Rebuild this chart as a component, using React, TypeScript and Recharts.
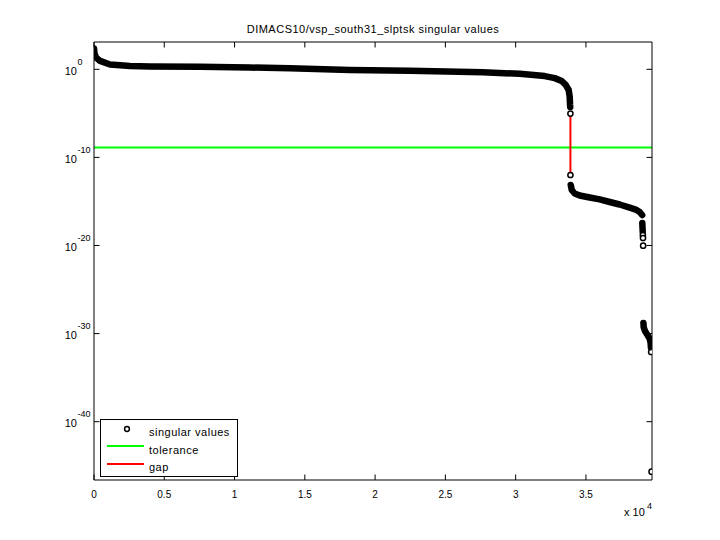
import React from 'react';
import { ComposedChart, XAxis, YAxis, Scatter, ReferenceLine, Legend } from 'recharts';

const FONT = '"Liberation Sans", Arial, Helvetica, sans-serif';

const chartTitle = 'DIMACS10/vsp_south31_slptsk singular values';
const xTicks = [0, 5000, 10000, 15000, 20000, 25000, 30000, 35000];
const yTicks = [1e0, 1e-10, 1e-20, 1e-30, 1e-40];
const xDomain = [0, 39700];
const yDomain = [2.4e-47, 1.26e3];

// dense run of singular values before the gap
const bandAIndex = [0, 40, 140, 430, 1140, 2560, 3980, 7540, 11100, 13940, 18200, 22470, 27660, 30290, 32067, 32778, 33276, 33560, 33774, 33845, 33867, 33881];
const bandAValue = [2.3e2, 6.0e1, 2.2e1, 9.0, 3.5, 2.4, 2.1, 2.0, 1.6, 1.3, 0.85, 0.68, 0.46, 0.31, 0.17, 0.10, 4.7e-2, 1.7e-2, 4.5e-3, 7.2e-4, 1.1e-4, 5.2e-5];

// dense run after the gap
const bandBIndex = [33917, 33988, 34201, 34556, 35268, 35979, 36690, 37401, 38112, 38539, 38823, 39001];
const bandBValue = [7.4e-14, 2.0e-14, 8.0e-15, 4.8e-15, 2.8e-15, 1.7e-15, 8.7e-16, 4.5e-16, 2.0e-16, 1.2e-16, 6.3e-17, 2.9e-17];

const bandCIndex = [39010, 39020, 39030, 39040];
const bandCValue = [3.6e-18, 1.6e-18, 7.4e-19, 3.4e-19];

const bandDIndex = [39090, 39110, 39200, 39380, 39530, 39600, 39625];
const bandDValue = [1.6e-29, 5.0e-30, 2.0e-30, 7.0e-31, 2.8e-31, 9.0e-32, 2.5e-32];

// isolated singular values drawn as open circles
const singleIndex = [33896, 33897, 39050, 39060, 39070, 39640, 39668];
const singleValue = [9.5e-6, 1.0e-12, 1.5e-19, 7.1e-20, 9.5e-21, 8.1e-33, 2.1e-46];

const tolerance = 1.3e-9;
const gapIndex = [33896, 33897];
const gapValue = [9.5e-6, 1.0e-12];

const legendLabels = ['singular values', 'tolerance', 'gap'];
const legendColors = ['#000000', '#00ff00', '#ff0000'];

const toRows = (xs: number[], ys: number[]) => xs.map((x, i) => ({ x, s: ys[i] }));

const bandA = toRows(bandAIndex, bandAValue);
const bandB = toRows(bandBIndex, bandBValue);
const bandC = toRows(bandCIndex, bandCValue);
const bandD = toRows(bandDIndex, bandDValue);
const singles = toRows(singleIndex, singleValue);
const gapRows = toRows(gapIndex, gapValue);

const BottomTick = (props: any) => {
  const { x, y, payload } = props;
  return (
    <g>
      <line x1={x} x2={x} y1={y} y2={y - 5.5} stroke="#000" strokeWidth={1} />
      <text x={x} y={y + 18} textAnchor="middle" fontSize={10} fontFamily={FONT} fill="#000">
        {String(payload.value / 1e4)}
      </text>
    </g>
  );
};

const TopTick = (props: any) => {
  const { x, y } = props;
  return <line x1={x} x2={x} y1={y} y2={y + 5.5} stroke="#000" strokeWidth={1} />;
};

const LeftTick = (props: any) => {
  const { x, y, payload } = props;
  const exp = Math.round(Math.log10(payload.value));
  return (
    <g>
      <line x1={x} x2={x + 5.5} y1={y} y2={y} stroke="#000" strokeWidth={1} />
      <text x={x - 17} y={y + 5.5} textAnchor="end" fontSize={11} fontFamily={FONT} fill="#000">10</text>
      <text x={x - 16.5} y={y - 4.3} textAnchor="start" fontSize={9} fontFamily={FONT} fill="#000">{String(exp)}</text>
    </g>
  );
};

const RightTick = (props: any) => {
  const { x, y } = props;
  return <line x1={x} x2={x - 5.5} y1={y} y2={y} stroke="#000" strokeWidth={1} />;
};

const NoMark = () => <g />;

const OpenCircle = (props: any) => {
  const { cx, cy } = props;
  if (cx == null || cy == null) return <g />;
  return <circle cx={cx} cy={cy} r={2.6} fill="#fff" stroke="#000" strokeWidth={1.5} />;
};

const LegendBox = () => (
  <svg width={138} height={58} style={{ display: 'block' }}>
    <rect x={0.5} y={0.5} width={137} height={57} fill="#fff" stroke="#000" strokeWidth={1} />
    {legendLabels.map((label, k) => (
      <g key={label}>
        {k === 0 ? (
          <circle cx={27} cy={10} r={2.4} fill="#fff" stroke={legendColors[k]} strokeWidth={1.5} />
        ) : (
          <line x1={7} x2={44} y1={9 + 18 * k} y2={9 + 18 * k} stroke={legendColors[k]} strokeWidth={2} />
        )}
        <text x={49} y={17.3 + 17.5 * k} fontSize={11} letterSpacing={0.5} fontFamily={FONT} fill="#000">
          {label}
        </text>
      </g>
    ))}
  </svg>
);

const bandLine = { stroke: '#000', strokeWidth: 6.5, strokeLinecap: 'round', strokeLinejoin: 'round' } as any;

export default function App() {
  return (
    <div style={{ position: 'absolute', left: 0, top: 0, width: 720, height: 540, background: '#fff' }}>
      <ComposedChart width={720} height={540} margin={{ top: 41, right: 67, bottom: 30, left: 0 }}>
        <XAxis xAxisId="b" type="number" dataKey="x" domain={xDomain} ticks={xTicks} interval={0}
          allowDataOverflow orientation="bottom" height={30} tickSize={0} tickMargin={0}
          tickLine={false} axisLine={{ stroke: '#000' }} tick={<BottomTick />} />
        <XAxis xAxisId="t" type="number" dataKey="x" domain={xDomain} ticks={xTicks} interval={0}
          allowDataOverflow orientation="top" height={1} tickSize={0} tickMargin={0}
          tickLine={false} axisLine={{ stroke: '#000' }} tick={<TopTick />} />
        <YAxis yAxisId="l" type="number" dataKey="s" scale="log" domain={yDomain} ticks={yTicks} interval={0}
          allowDataOverflow orientation="left" width={94} tickSize={0} tickMargin={0}
          tickLine={false} axisLine={{ stroke: '#000' }} tick={<LeftTick />} />
        <YAxis yAxisId="r" type="number" dataKey="s" scale="log" domain={yDomain} ticks={yTicks} interval={0}
          allowDataOverflow orientation="right" width={1} tickSize={0} tickMargin={0}
          tickLine={false} axisLine={{ stroke: '#000' }} tick={<RightTick />} />
        <ReferenceLine y={tolerance} xAxisId="b" yAxisId="l" stroke="#00ff00" strokeWidth={2} />
        <Scatter data={gapRows} dataKey="s" xAxisId="b" yAxisId="l" fill="#ff0000"
          line={{ stroke: '#ff0000', strokeWidth: 2 }} shape={<NoMark />} isAnimationActive={false} legendType="none" />
        <Scatter data={bandA} dataKey="s" xAxisId="b" yAxisId="l" fill="#000"
          line={bandLine} shape={<NoMark />} isAnimationActive={false} legendType="none" />
        <Scatter data={bandB} dataKey="s" xAxisId="b" yAxisId="l" fill="#000"
          line={bandLine} shape={<NoMark />} isAnimationActive={false} legendType="none" />
        <Scatter data={bandC} dataKey="s" xAxisId="b" yAxisId="l" fill="#000"
          line={bandLine} shape={<NoMark />} isAnimationActive={false} legendType="none" />
        <Scatter data={bandD} dataKey="s" xAxisId="b" yAxisId="l" fill="#000"
          line={bandLine} shape={<NoMark />} isAnimationActive={false} legendType="none" />
        <Scatter data={singles} dataKey="s" xAxisId="b" yAxisId="l" fill="#fff"
          shape={<OpenCircle />} isAnimationActive={false} legendType="none" />
        <Legend layout="vertical" align="center" verticalAlign="middle"
          wrapperStyle={{ left: 100, top: 419, width: 138, height: 58 }}
          content={() => <LegendBox />} />
      </ComposedChart>
      <svg width={720} height={540} style={{ position: 'absolute', left: 0, top: 0, pointerEvents: 'none' }}>
        <text x={373} y={33} textAnchor="middle" fontSize={11} letterSpacing={0.5} fontFamily={FONT} fill="#000">
          {chartTitle}
        </text>
        <text x={624} y={516} fontSize={11} fontFamily={FONT} fill="#000">x 10</text>
        <text x={647} y={509} fontSize={9} fontFamily={FONT} fill="#000">4</text>
      </svg>
    </div>
  );
}
